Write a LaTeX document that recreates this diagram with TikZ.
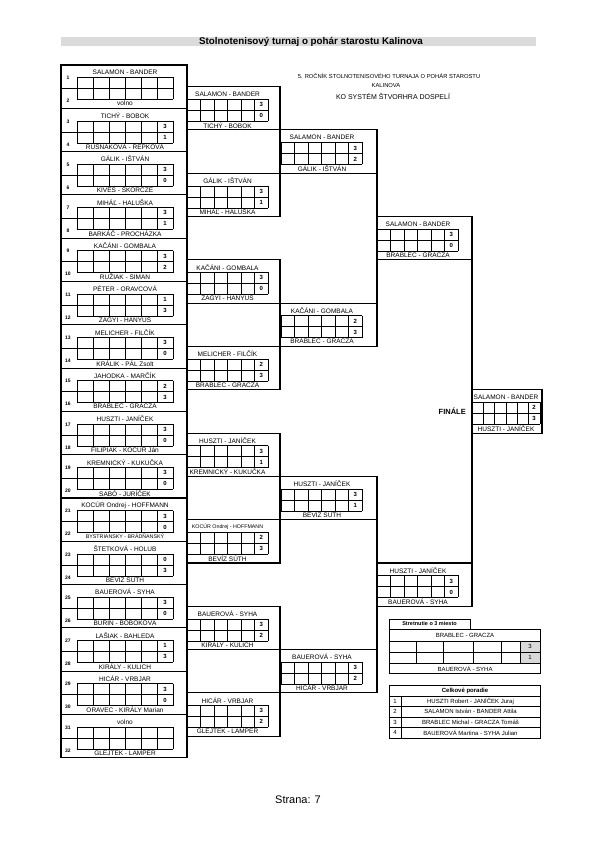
\documentclass[tikz,border=0pt]{standalone}
\usepackage{fontspec}
\setmainfont{Liberation Sans}
\usepackage{xcolor}
\usetikzlibrary{positioning,calc}

\definecolor{titlebar}{gray}{0.86}
\definecolor{scoregray}{gray}{0.85}

\newcommand{\smallteam}{\fontsize{5.3}{6}\selectfont}
\def\blockH{43.3}
\newcommand{\setcolumn}[6]{\def\colL{#1}\def\colR{#2}\def\cellX{#3}\def\cellW{#4}\def\nameX{#5}\def\colSpan{#6}}
\newcommand{\drawmatch}[6]{%
  \pgfmathsetmacro\mtop{65+\colSpan*\blockH*(#2-0.5)-\blockH/2}%
  \pgfmathsetmacro\mmid{\mtop+\blockH/2}%
  \pgfmathsetmacro\boxW{\colR-\colL}%
  \node[matchbox, minimum width=\boxW pt] (#1) at ({(\colL+\colR)/2},\mmid) {};
  \foreach \j in {0,...,6}
    \draw[cell] ({\cellX+\j*\cellW},\mtop+12.5) -- ++(0,22);
  \draw[cell] (\cellX,\mtop+12.5) -- ({\cellX+6*\cellW},\mtop+12.5);
  \draw[cell] (\colL,\mtop+23.5) -- ({\cellX+6*\cellW},\mtop+23.5);
  \draw[cell] (\cellX,\mtop+34.5) -- ({\cellX+6*\cellW},\mtop+34.5);
  \node[team] (#1-up) at (\nameX,\mtop+7.5) {#3};
  \node[team] (#1-lo) at (\nameX,\mtop+38.6) {#4};
  \node[score] (#1-s1) at ({\cellX+5.5*\cellW},\mtop+18) {#5};
  \node[score] (#1-s2) at ({\cellX+5.5*\cellW},\mtop+29) {#6};
}

\begin{document}
\begin{tikzpicture}[x=1pt, y=-1pt,
  matchbox/.style={draw, line width=1.1pt, inner sep=0pt, outer sep=0pt,
                   minimum height=43.3pt},
  frame/.style={line width=1.1pt},
  cell/.style={line width=0.45pt},
  team/.style={font=\fontsize{6.5}{7}\selectfont, inner sep=0pt},
  score/.style={font=\fontsize{6}{7}\selectfont\bfseries, inner sep=0pt},
  seednum/.style={font=\fontsize{5}{6}\selectfont\bfseries, inner sep=0pt},
  table/.style={draw, line width=0.6pt, inner sep=0pt, outer sep=0pt},
  small/.style={font=\fontsize{6}{7}\selectfont, inner sep=0pt}
]
  \useasboundingbox (0,0) rectangle (595,842);

  \node[fill=titlebar, minimum width=475pt, minimum height=9pt, inner sep=0pt] (bar) at (298.5,41.5) {};
  \node[font=\bfseries\fontsize{9.8}{10}\selectfont, inner sep=0pt] (title) at (311,41.5)
    {Stolnotenisový turnaj o pohár starostu Kalinova};

  \node[font=\fontsize{5.8}{6}\selectfont, inner sep=0pt] (head1) at (389,76)
    {5. ROČNÍK STOLNOTENISOVÉHO TURNAJA O POHÁR STAROSTU};
  \node[font=\fontsize{5.8}{6}\selectfont, inner sep=0pt] (head2) at (386,85.5) {KALINOVA};
  \node[font=\fontsize{7}{8}\selectfont, inner sep=0pt] (head3) at (393,96.5) {KO SYSTÉM ŠTVORHRA DOSPELÍ};

  % 1. kolo
  \setcolumn{61}{187}{77}{16}{125}{1}
  \foreach \k/\up/\lo/\sa/\sb in {
      1/SALAMON - BANDER/volno//,
      2/TICHÝ - BOBOK/RUSNÁKOVÁ - REPKOVÁ/3/1,
      3/GÁLIK - IŠTVÁN/KIVES - SKORCZE/3/0,
      4/MIHÁĽ - HALUŠKA/BARKÁČ - PROCHÁZKA/3/1,
      5/KAČÁNI - GOMBALA/RUŽIAK - SIMAN/3/2,
      6/PÉTER - ORAVCOVÁ/ZAGYI - HANYUS/1/3,
      7/MELICHER - FILČÍK/KRÁLIK - PÁL Zsolt/3/0,
      8/JAHODKA - MARČÍK/BRABLEC - GRACZA/2/3,
      9/HUSZTI - JANÍČEK/FILIPIAK - KOCÚR Ján/3/0,
      10/KREMNICKÝ - KUKUČKA/SABÓ - JURÍČEK/3/0,
      11/KOCÚR Ondrej - HOFFMANN/{\smallteam BYSTRIANSKY - BRÁDŇANSKÝ}/3/0,
      12/ŠTETKOVÁ - HOLUB/BEVÍZ SÚTH/0/3,
      13/BAUEROVÁ - SYHA/BURIN - BOBOKOVÁ/3/0,
      14/LAŠIAK - BAHLEDA/KIRÁLY - KULICH/1/3,
      15/HICÁR - VRBJAR/ORAVEC - KIRÁLY Marian/3/0,
      16/volno/GLEJTEK - LAMPER//} {
    \drawmatch{r1-\k}{\k}{\up}{\lo}{\sa}{\sb}
    \pgfmathtruncatemacro\sdA{2*\k-1}
    \pgfmathtruncatemacro\sdB{2*\k}
    \node[seednum] (seed\sdA) at (68,\mtop+13) {\sdA};
    \node[seednum] (seed\sdB) at (68,\mtop+36) {\sdB};
  }

  % 2. kolo
  \setcolumn{187}{280}{187}{13.5}{227.5}{2}
  \foreach \k/\up/\lo/\sa/\sb in {
      1/SALAMON - BANDER/TICHÝ - BOBOK/3/0,
      2/GÁLIK - IŠTVÁN/MIHÁĽ - HALUŠKA/3/1,
      3/KAČÁNI - GOMBALA/ZAGYI - HANYUS/3/0,
      4/MELICHER - FILČÍK/BRABLEC - GRACZA/2/3,
      5/HUSZTI - JANÍČEK/KREMNICKÝ - KUKUČKA/3/1,
      6/{\smallteam KOCÚR Ondrej - HOFFMANN}/BEVÍZ SÚTH/2/3,
      7/BAUEROVÁ - SYHA/KIRÁLY - KULICH/3/2,
      8/HICÁR - VRBJAR/GLEJTEK - LAMPER/3/2} {
    \drawmatch{r2-\k}{\k}{\up}{\lo}{\sa}{\sb}
  }

  % 3. kolo
  \setcolumn{280}{377}{281}{13.5}{322}{4}
  \foreach \k/\up/\lo/\sa/\sb in {
      1/SALAMON - BANDER/GÁLIK - IŠTVÁN/3/2,
      2/KAČÁNI - GOMBALA/BRABLEC - GRACZA/2/3,
      3/HUSZTI - JANÍČEK/BEVÍZ SÚTH/3/1,
      4/BAUEROVÁ - SYHA/HICÁR - VRBJAR/3/2} {
    \drawmatch{r3-\k}{\k}{\up}{\lo}{\sa}{\sb}
  }

  % semifinale
  \setcolumn{377}{472}{377}{13.5}{418}{8}
  \foreach \k/\up/\lo/\sa/\sb in {
      1/SALAMON - BANDER/BRABLEC - GRACZA/3/0,
      2/HUSZTI - JANÍČEK/BAUEROVÁ - SYHA/3/0} {
    \drawmatch{r4-\k}{\k}{\up}{\lo}{\sa}{\sb}
  }

  % finale
  \setcolumn{472}{542}{472}{11.3}{506}{16}
  \drawmatch{r5-1}{1}{SALAMON - BANDER}{HUSZTI - JANÍČEK}{2}{3}
  \node[font=\bfseries\fontsize{7.5}{8}\selectfont, inner sep=0pt, left=6pt of r5-1] (finale) {FINÁLE};

  \foreach \c/\p/\n in {2/1/8, 3/2/4, 4/3/2, 5/4/1} {
    \foreach \k in {1,...,\n} {
      \pgfmathtruncatemacro\u{2*\k-1}
      \pgfmathtruncatemacro\l{2*\k}
      \draw[frame] (r\p-\u.north east) -- (r\c-\k.north west);
      \draw[frame] (r\c-\k.south west) -- (r\p-\l.south east);
    }
  }

  % o 3. miesto
  \node[table, minimum width=81pt, minimum height=10pt, anchor=south west,
        font=\bfseries\fontsize{5.5}{6}\selectfont] (tab3) at (389,629) {Stretnutie o 3 miesto};
  \fill[scoregray] (520.1,641) rectangle (540,663);
  \node[table, minimum width=151pt, minimum height=44pt, anchor=north west] (third) at (389,629) {};
  \foreach \y in {641,652,663}
    \draw[cell] (389,\y) -- (540,\y);
  \foreach \x in {416.6,443.5,473.4,501,520.1}
    \draw[cell] (\x,641) -- (\x,663);
  \node[small] (third-up) at (465,635.5) {BRABLEC - GRACZA};
  \node[small] (third-lo) at (465,668.5) {BAUEROVÁ - SYHA};
  \node[small] (third-s1) at (530,646.5) {3};
  \node[small] (third-s2) at (530,657.5) {1};

  % poradie
  \node[table, minimum width=151pt, minimum height=53pt, anchor=north west] (order) at (389,685) {};
  \node[small, font=\bfseries\fontsize{6}{7}\selectfont] (orderhead) at (465,690.5) {Celkové poradie};
  \foreach \y in {696,706.5,717,727.5}
    \draw[cell] (389,\y) -- (540,\y);
  \draw[cell] (401,696) -- (401,738);
  \foreach \i/\who in {1/HUSZTI Robert - JANÍČEK Juraj,
                       2/SALAMON István - BANDER Attila,
                       3/BRABLEC Michal - GRACZA Tomáš,
                       4/BAUEROVÁ Martina - SYHA Julian} {
    \node[small] (rank\i) at (395,{696+10.5*(\i-0.5)}) {\i};
    \node[small] (who\i) at (470.5,{696+10.5*(\i-0.5)}) {\who};
  }

  \node[font=\fontsize{11}{12}\selectfont, inner sep=0pt] (page) at (298,800) {Strana: 7};
\end{tikzpicture}
\end{document}
